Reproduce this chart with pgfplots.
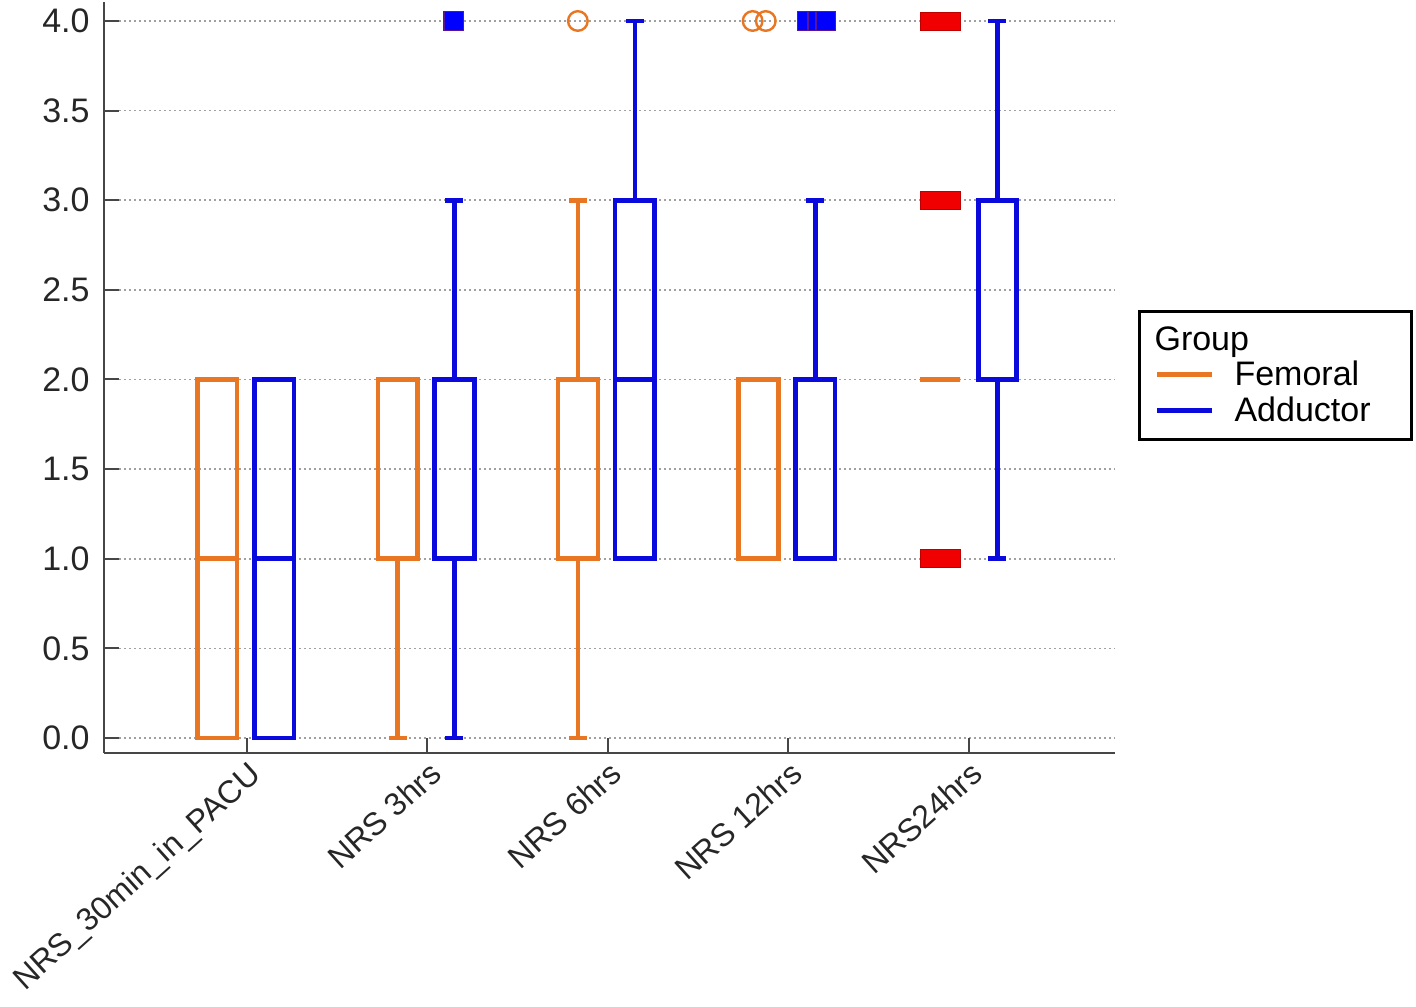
\documentclass[border=0pt]{standalone}
\usepackage{fontspec}
\setmainfont{Liberation Sans}
\usepackage{pgfplots}
\pgfplotsset{compat=1.18}
\usepgfplotslibrary{statistics}
\definecolor{fem}{RGB}{232,118,34}
\definecolor{add}{RGB}{10,10,220}
\definecolor{outred}{RGB}{240,0,0}
\definecolor{sqedge}{RGB}{90,20,150}
\definecolor{axgray}{RGB}{70,70,70}
\definecolor{gridgray}{RGB}{160,160,160}
\newcommand\f{\fontsize{17}{20}\selectfont}
\begin{document}
\begin{tikzpicture}
\begin{axis}[
  at={(52pt,126.5pt)}, anchor=south west,
  width=505.5pt, height=375.5pt, scale only axis,
  xmin=-0.793, xmax=4.812, ymin=-0.0837, ymax=4.106,
  clip=false,
  axis x line=bottom, axis y line=left,
  axis line style={-, axgray, line width=1pt},
  xtick={0,1,2,3,4},
  xticklabels={NRS\_30min\_in\_PACU, NRS 3hrs, NRS 6hrs, NRS 12hrs, NRS24hrs},
  ytick={0,0.5,1,1.5,2,2.5,3,3.5,4},
  /pgf/number format/assume math mode=true,
  yticklabel style={/pgf/number format/fixed, /pgf/number format/fixed zerofill, /pgf/number format/precision=1, inner sep=0pt, xshift=-7pt},
  tick align=inside,
  major tick length=7.5pt,
  tick style={axgray, line width=1pt},
  ticklabel style={font=\f, text=black!85},
  xticklabel style={font=\fontsize{16}{19}\selectfont, rotate=42, anchor=north east, inner sep=0pt, xshift=-2pt, yshift=-2.5pt},
  ymajorgrids,
  grid style={gridgray, line width=0.8pt, dash pattern=on 1.1pt off 1.4pt},
  boxplot/draw direction=y,
  boxplot/box extend=0.22,
  boxplot/whisker extend=0.1,
  legend style={at={(1.0228,0.590)}, anchor=north west, draw=black, line width=1.5pt,
    font=\f, inner xsep=7.5pt, inner ysep=5.5pt, row sep=0pt},
  legend cell align=left,
]
\addlegendimage{empty legend}\addlegendentry{\hspace*{-40pt}Group}
\addlegendimage{legend image code/.code={\draw[fem, line width=2.5pt] (0pt,0pt) -- (27.5pt,0pt); \path (36pt,0pt);}}\addlegendentry{Femoral}
\addlegendimage{legend image code/.code={\draw[add, line width=2.5pt] (0pt,0pt) -- (27.5pt,0pt); \path (36pt,0pt);}}\addlegendentry{Adductor\hspace*{11pt}}

% NRS_30min_in_PACU
\addplot[fem, line width=2.3pt, forget plot, boxplot prepared={lower whisker=0, lower quartile=0, median=1, upper quartile=2, upper whisker=2, draw position=-0.165}] coordinates {};
\addplot[add, line width=2.3pt, forget plot, boxplot prepared={lower whisker=0, lower quartile=0, median=1, upper quartile=2, upper whisker=2, draw position=0.15}] coordinates {};
% NRS 3hrs
\addplot[fem, line width=2.3pt, forget plot, boxplot prepared={lower whisker=0, lower quartile=1, median=1, upper quartile=2, upper whisker=2, draw position=0.835}] coordinates {};
\addplot[add, line width=2.3pt, forget plot, boxplot prepared={lower whisker=0, lower quartile=1, median=1, upper quartile=2, upper whisker=3, draw position=1.15}] coordinates {};
% NRS 6hrs
\addplot[fem, line width=2.3pt, forget plot, boxplot prepared={lower whisker=0, lower quartile=1, median=2, upper quartile=2, upper whisker=3, draw position=1.835}] coordinates {};
\addplot[add, line width=2.3pt, forget plot, boxplot prepared={lower whisker=1, lower quartile=1, median=2, upper quartile=3, upper whisker=4, draw position=2.15}] coordinates {};
% NRS 12hrs
\addplot[fem, line width=2.3pt, forget plot, boxplot prepared={lower whisker=1, lower quartile=1, median=1, upper quartile=2, upper whisker=2, draw position=2.835}] coordinates {};
\addplot[add, line width=2.3pt, forget plot, boxplot prepared={lower whisker=1, lower quartile=1, median=1, upper quartile=2, upper whisker=3, draw position=3.15}] coordinates {};
% NRS24hrs
\addplot[fem, line width=2.3pt, forget plot, boxplot prepared={lower whisker=2, lower quartile=2, median=2, upper quartile=2, upper whisker=2, draw position=3.843}] coordinates {};
\addplot[add, line width=2.3pt, forget plot, boxplot/box extend=0.21, boxplot prepared={lower whisker=1, lower quartile=2, median=2, upper quartile=3, upper whisker=4, draw position=4.16}] coordinates {};

% outliers
\addplot[only marks, forget plot, mark=o, mark size=4.9pt, mark options={fem, line width=1.2pt}] coordinates {(1.834,4) (2.803,4) (2.876,4)};
\addplot[only marks, forget plot, mark=square*, mark size=4.8pt, mark options={fill=blue, draw=sqedge, line width=0.8pt}] coordinates {(1.146,4) (3.104,4) (3.163,4) (3.209,4)};
\addplot[only marks, forget plot, mark=square*, mark size=4.5pt, mark options={xscale=2.2, fill=outred, draw=red!75!black, line width=0.4pt}] coordinates {(3.843,4) (3.843,3) (3.843,1)};
\end{axis}
\pgfresetboundingbox
\path[use as bounding box] (0,0) rectangle (708pt,503pt);
\end{tikzpicture}
\end{document}
